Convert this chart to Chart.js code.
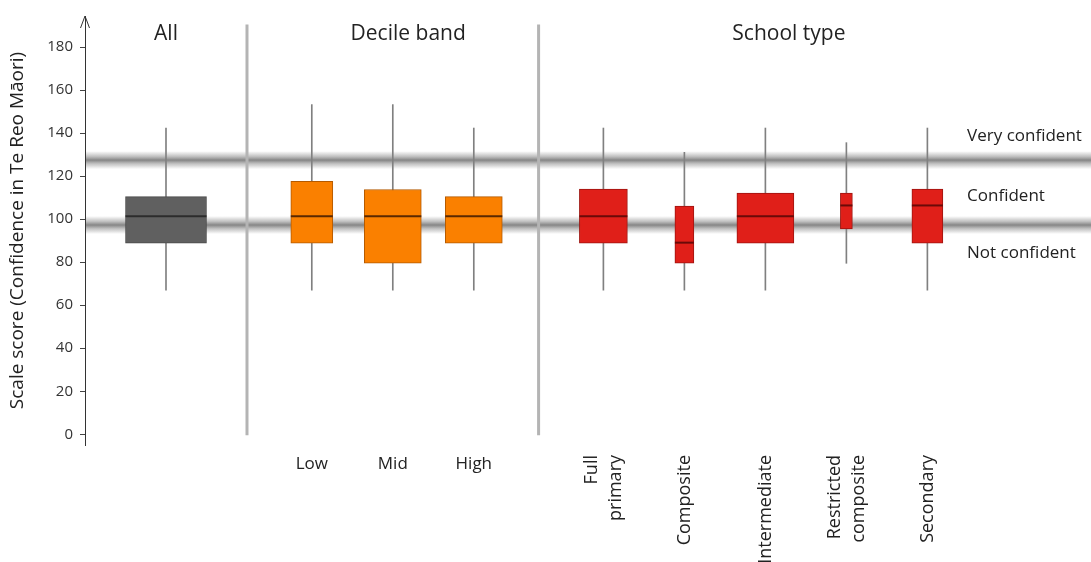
<!DOCTYPE html>
<html>
<head>
<meta charset="utf-8">
<title>Scale score (Confidence in Te Reo Māori)</title>
<script src="https://cdn.jsdelivr.net/npm/chart.js@4.4.1/dist/chart.umd.min.js"></script>
<style>
  html, body { margin: 0; padding: 0; background: #fff; }
  #wrap { width: 1091px; height: 562px; }
</style>
</head>
<body>
<div id="wrap"><canvas id="chart"></canvas></div>
<script>
// Categorías, grupos y etiquetas
const categories = ['All', 'Low', 'Mid', 'High', 'Full primary', 'Composite', 'Intermediate', 'Restricted composite', 'Secondary'];
const categoryLabels = ['All', 'Low', 'Mid', 'High', ['Full', 'primary'], 'Composite', 'Intermediate', ['Restricted', 'composite'], 'Secondary'];
const groups = ['all', 'decile', 'decile', 'decile', 'school', 'school', 'school', 'school', 'school'];
const groupTitles = ['All', 'Decile band', 'School type'];

// Valores de cada diagrama de caja
const whiskerLow  = [67, 67, 67, 67, 67, 67, 67, 79.5, 67];
const quartile1   = [88.8, 88.8, 79.5, 88.8, 88.9, 79.5, 88.9, 95.5, 88.9];
const median      = [101.4, 101.4, 101.4, 101.4, 101.4, 89.1, 101.4, 106.4, 106.4];
const quartile3   = [110.5, 117.6, 113.8, 110.5, 114, 106.1, 112.1, 112.1, 114];
const whiskerHigh = [142.4, 153.3, 153.3, 142.4, 142.4, 131.1, 142.4, 135.6, 142.4];

// Bandas de confianza y marcas del eje Y
const bandCuts = [127.5, 97.3];
const bandLabels = ['Very confident', 'Confident', 'Not confident'];
const yTicks = [0, 20, 40, 60, 80, 100, 120, 140, 160, 180];

// Disposición (posiciones en el eje X y anchos de caja en px)
const xPos = [1, 2.8, 3.8, 4.8, 6.4, 7.4, 8.4, 9.4, 10.4];
const boxWidths = [81, 42, 57, 57, 48, 19, 57, 12, 31];
const separatorPos = [2, 5.6];
const groupTitlePos = [1, 3.99, 8.69];
const bandLabelX = 10.89;
const bandLabelY = [138.6, 110.9, 84.1];

// Colores por grupo
const fillColors = { all: '#606060', decile: '#FA8000', school: '#E01F19' };
const edgeColors = { all: '#4a4a4a', decile: '#b45a00', school: '#9e1510' };
const medianColors = { all: '#2c2c2c', decile: '#5a2800', school: '#6a0a08' };

Chart.defaults.font.family = '"Open Sans", sans-serif';

// Conjuntos de datos: bigotes, cajas y medianas
const datasets = [];
datasets.push({
  type: 'bar',
  label: 'whiskers',
  data: categories.map((c, i) => ({ x: xPos[i], y: [whiskerLow[i], whiskerHigh[i]] })),
  backgroundColor: '#808080',
  barThickness: 1,
  grouped: false,
  order: 3
});
categories.forEach((c, i) => {
  datasets.push({
    type: 'bar',
    label: c,
    data: [{ x: xPos[i], y: [quartile1[i], quartile3[i]] }],
    backgroundColor: fillColors[groups[i]],
    borderColor: edgeColors[groups[i]],
    borderWidth: 1,
    borderSkipped: false,
    barThickness: boxWidths[i],
    grouped: false,
    order: 2
  });
});
datasets.push({
  type: 'scatter',
  label: 'median',
  data: categories.map((c, i) => ({ x: xPos[i], y: median[i] })),
  pointStyle: 'line',
  pointRadius: boxWidths.map(w => w / 2),
  pointBorderWidth: 2,
  pointBorderColor: groups.map(g => medianColors[g]),
  pointBackgroundColor: groups.map(g => medianColors[g]),
  order: 1
});

// Plugin para bandas, separadores, títulos y etiquetas
const decorPlugin = {
  id: 'decor',
  beforeDatasetsDraw(chart) {
    const { ctx, chartArea, scales: { x, y } } = chart;
    ctx.save();
    bandCuts.forEach(v => {
      const py = y.getPixelForValue(v);
      const g = ctx.createLinearGradient(0, py - 9, 0, py + 9);
      g.addColorStop(0, 'rgba(130,130,130,0)');
      g.addColorStop(0.3, 'rgba(130,130,130,0.5)');
      g.addColorStop(0.5, 'rgba(120,120,120,0.9)');
      g.addColorStop(0.7, 'rgba(130,130,130,0.5)');
      g.addColorStop(1, 'rgba(130,130,130,0)');
      ctx.fillStyle = g;
      ctx.fillRect(chartArea.left + 1, py - 9, chartArea.right - chartArea.left, 18);
    });
    ctx.strokeStyle = '#b4b4b4';
    ctx.lineWidth = 3;
    separatorPos.forEach(p => {
      const px = x.getPixelForValue(p);
      ctx.beginPath();
      ctx.moveTo(px, y.getPixelForValue(190.5));
      ctx.lineTo(px, y.getPixelForValue(-0.5));
      ctx.stroke();
    });
    ctx.restore();
  },
  afterDraw(chart) {
    const { ctx, chartArea, scales: { x, y } } = chart;
    ctx.save();
    ctx.fillStyle = '#222';
    ctx.textBaseline = 'middle';

    // Títulos de grupo
    ctx.font = '21px "Open Sans"';
    ctx.textAlign = 'center';
    groupTitles.forEach((t, i) => ctx.fillText(t, x.getPixelForValue(groupTitlePos[i]), chartArea.top + 18));

    // Etiquetas de las bandas
    ctx.font = '17px "Open Sans"';
    ctx.textAlign = 'left';
    bandLabels.forEach((t, i) => ctx.fillText(t, x.getPixelForValue(bandLabelX), y.getPixelForValue(bandLabelY[i])));

    // Etiquetas de categoría
    categories.forEach((c, i) => {
      if (groups[i] === 'all') return;
      const px = x.getPixelForValue(xPos[i]);
      const lines = [].concat(categoryLabels[i]);
      if (groups[i] === 'decile') {
        ctx.font = '17px "Open Sans"';
        ctx.textAlign = 'center';
        ctx.fillText(lines[0], px, chartArea.bottom + 19);
      } else {
        ctx.font = '18px "Open Sans"';
        ctx.save();
        ctx.translate(px, chartArea.bottom + 10);
        ctx.rotate(-Math.PI / 2);
        ctx.textAlign = 'right';
        lines.forEach((l, k) => ctx.fillText(l, 0, (k - (lines.length - 1) / 2) * 24));
        ctx.restore();
      }
    });

    // Flecha del eje Y
    const ax = chartArea.left;
    ctx.strokeStyle = '#333';
    ctx.lineWidth = 1;
    ctx.beginPath();
    ctx.moveTo(ax - 4.5, chartArea.top + 12);
    ctx.lineTo(ax, chartArea.top);
    ctx.lineTo(ax + 4.5, chartArea.top + 12);
    ctx.stroke();
    ctx.restore();
  }
};

const chart = new Chart(document.getElementById('chart'), {
  type: 'bar',
  data: { datasets },
  plugins: [decorPlugin],
  options: {
    responsive: true,
    maintainAspectRatio: false,
    animation: false,
    events: [],
    layout: { autoPadding: false, padding: { left: 0, right: 0, top: 6, bottom: 117 } },
    plugins: { legend: { display: false }, tooltip: { enabled: false } },
    scales: {
      x: {
        type: 'linear',
        display: false,
        offset: false,
        min: 0,
        max: 12.42
      },
      y: {
        type: 'linear',
        min: -5,
        max: 194.5,
        afterBuildTicks(scale) {
          scale.ticks = yTicks.map(v => ({ value: v }));
        },
        afterFit(scale) {
          scale.width = 85;
        },
        grid: { display: true, drawOnChartArea: false, drawTicks: true, tickLength: 5, color: '#444' },
        border: { display: true, color: '#333', width: 1 },
        ticks: { color: '#333', padding: 7, font: { size: 15 } },
        title: {
          display: true,
          text: 'Scale score (Confidence in Te Reo Māori)',
          color: '#222',
          font: { size: 19 },
          padding: { top: 6, bottom: 0 }
        }
      }
    }
  }
});
</script>
</body>
</html>
